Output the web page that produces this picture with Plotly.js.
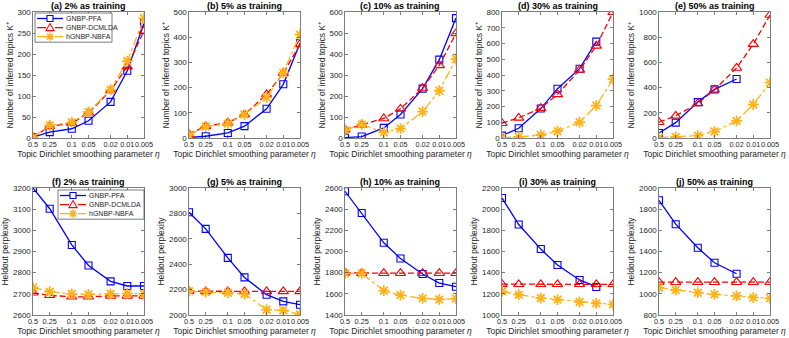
<!DOCTYPE html>
<html>
<head>
<meta charset="utf-8">
<script src="https://cdn.plot.ly/plotly-3.0.1.min.js"></script>
<style>
  html, body { margin: 0; padding: 0; background: #fff; }
  #chart { width: 789px; height: 338px; }
</style>
</head>
<body>
<div id="chart"></div>
<script>
// smoothing parameter eta, drawn on a reversed log axis
var eta = [0.5, 0.25, 0.1, 0.05, 0.02, 0.01, 0.005];
var etaLabels = ["0.5", "0.25", "0.1", "0.05", "0.02", "0.01", "0.005"];

var methods = ["GNBP-PFA", "GNBP-DCMLDA", "hGNBP-NBFA"];

var topTitles = ["(a) 2% as training", "(b) 5% as training", "(c) 10% as training",
                 "(d) 30% as training", "(e) 50% as training"];
var bottomTitles = ["(f) 2% as training", "(g) 5% as training", "(h) 10% as training",
                    "(i) 30% as training", "(j) 50% as training"];

// number of inferred topics K+, one row per training fraction
var topicsPFA = [
  [2, 14, 22, 41, 86, 160, 273],
  [2, 7, 20, 47, 116, 213, 376],
  [2, 7, 48, 112, 235, 373, 571],
  [15, 62, 187, 313, 440, 612, null],
  [40, 122, 285, 386, 468, null, null]
];
var topicsDCMLDA = [
  [2, 28, 35, 60, 113, 170, 255],
  [15, 47, 61, 93, 173, 257, 372],
  [40, 62, 93, 139, 238, 346, 498],
  [94, 128, 189, 277, 432, 585, 798],
  [125, 176, 274, 383, 556, 745, 976]
];
var topicsNBFA = [
  [2, 30, 37, 62, 115, 183, 285],
  [11, 46, 57, 93, 161, 259, 410],
  [37, 65, 27, 45, 126, 225, 376],
  [2, 7, 19, 43, 100, 206, 374],
  [3, 8, 19, 51, 136, 266, 439]
];

// heldout perplexity
var perpPFA = [
  [3200, 3102, 2931, 2834, 2759, 2737, 2737],
  [2809, 2678, 2450, 2296, 2160, 2107, 2081],
  [2569, 2364, 2082, 1934, 1787, 1702, 1667],
  [2106, 1855, 1623, 1472, 1331, 1265, null],
  [1884, 1658, 1435, 1294, 1190, null, null]
];
var perpDCMLDA = [
  [2705, 2693, 2686, 2686, 2690, 2690, 2690],
  [2188, 2186, 2186, 2186, 2186, 2186, 2186],
  [1800, 1795, 1795, 1795, 1795, 1795, 1795],
  [1292, 1290, 1290, 1290, 1290, 1290, 1290],
  [1111, 1110, 1110, 1110, 1110, 1110, 1110]
];
var perpNBFA = [
  [2730, 2710, 2700, 2697, 2700, 2702, 2700],
  [2188, 2180, 2175, 2165, 2042, 2037, 2005],
  [1793, 1793, 1630, 1588, 1557, 1547, 1555],
  [1223, 1192, 1160, 1145, 1123, 1110, 1100],
  [1058, 1036, 1011, 995, 980, 964, 958]
];

// axis ranges and tick steps for each panel
var topRange = [[0, 300, 50], [0, 500, 100], [0, 600, 100], [0, 800, 100], [0, 1000, 200]];
var bottomRange = [[2600, 3200, 100], [2000, 3000, 200], [1400, 2600, 200], [1000, 2200, 200], [800, 2000, 200]];

var W = 789, H = 338;
var colLeft = [33, 189, 345, 502, 659];
var plotW = 111;
var rowTop = [12, 188], rowBottom = [138, 315];

var font = "Liberation Sans, Arial, sans-serif";
var ink = "#262626";

var styles = [
  {color: "#0000ff", dash: "solid", symbol: "square-open", size: 7, mw: 1.1},
  {color: "#ff0000", dash: "6px,3px", symbol: "triangle-up-open", size: 9, mw: 1.1},
  {color: "#ffb31a", dash: "dashdot", symbol: "asterisk-open", size: 9, mw: 1.8}
];

function px(x) { return x / W; }
function py(y) { return 1 - y / H; }

var data = [];
var layout = {
  width: W, height: H,
  margin: {l: 0, r: 0, t: 0, b: 0},
  paper_bgcolor: "#fff", plot_bgcolor: "#fff",
  font: {family: font, size: 8, color: ink},
  showlegend: false,
  annotations: [],
  shapes: []
};

function addPanel(idx, row, col, series, rng, title, ytitle) {
  var n = idx + 1;
  var xa = n === 1 ? "x" : "x" + n;
  var ya = n === 1 ? "y" : "y" + n;
  for (var m = 0; m < 3; m++) {
    var s = styles[m];
    data.push({
      x: eta, y: series[m],
      xaxis: xa, yaxis: ya,
      type: "scatter", mode: "lines+markers",
      name: methods[m],
      line: {color: s.color, width: 1.3, dash: s.dash},
      marker: {symbol: s.symbol, size: s.size, color: s.color, line: {color: s.color, width: s.mw}}
    });
  }
  var l = colLeft[col];
  layout["xaxis" + (n === 1 ? "" : n)] = {
    anchor: ya,
    domain: [px(l), px(l + plotW)],
    type: "log",
    range: [Math.log10(0.5), Math.log10(0.005)],
    tickmode: "array", tickvals: eta, ticktext: etaLabels, tickangle: 0,
    ticks: "inside", ticklen: 3, tickcolor: ink, tickwidth: 0.6,
    showline: true, linecolor: ink, linewidth: 0.6, mirror: "ticks",
    showgrid: false, zeroline: false,
    tickfont: {size: 7.3, color: ink},
    title: {text: "Topic Dirichlet smoothing parameter <i>η</i>", font: {size: 8.5, color: ink}, standoff: 2}
  };
  layout["yaxis" + (n === 1 ? "" : n)] = {
    anchor: xa,
    domain: [py(rowBottom[row]), py(rowTop[row])],
    range: [rng[0], rng[1]], dtick: rng[2], tick0: rng[0],
    ticks: "inside", ticklen: 3, tickcolor: ink, tickwidth: 0.6,
    showline: true, linecolor: ink, linewidth: 0.6, mirror: "ticks",
    showgrid: false, zeroline: false,
    tickfont: {size: 8, color: ink},
    title: {text: ytitle, font: {size: 8.5, color: ink}, standoff: 2}
  };
  layout.annotations.push({
    xref: "paper", yref: "paper",
    x: px(l + plotW / 2), y: py(rowTop[row] - 6.5),
    xanchor: "center", yanchor: "middle",
    text: "<b>" + title + "</b>", showarrow: false,
    font: {size: 9, color: "#000"}
  });
}

// compact MATLAB-style legend box drawn with shapes and one block of text
function addLegend(left, top, width) {
  var gap = 9.1;
  var height = 2 * gap + 11;
  layout.shapes.push({
    type: "rect", xref: "paper", yref: "paper",
    x0: px(left), x1: px(left + width), y0: py(top), y1: py(top + height),
    fillcolor: "#fff", line: {color: ink, width: 0.6}
  });
  for (var m = 0; m < 3; m++) {
    var s = styles[m];
    var cy = top + 5.5 + m * gap;
    var cx = left + 15;
    layout.shapes.push({
      type: "line", xref: "paper", yref: "paper",
      x0: px(left + 2), x1: px(left + 28), y0: py(cy), y1: py(cy),
      line: {color: s.color, width: 1.3, dash: s.dash === "6px,3px" ? "dash" : s.dash}
    });
    var path;
    if (m === 0) {
      path = "M" + px(cx - 3) + "," + py(cy - 3) + "L" + px(cx + 3) + "," + py(cy - 3) +
             "L" + px(cx + 3) + "," + py(cy + 3) + "L" + px(cx - 3) + "," + py(cy + 3) + "Z";
      layout.shapes.push({type: "path", xref: "paper", yref: "paper", path: path,
        fillcolor: "#fff", line: {color: s.color, width: 1.1}});
    } else if (m === 1) {
      path = "M" + px(cx) + "," + py(cy - 4) + "L" + px(cx + 4) + "," + py(cy + 3) +
             "L" + px(cx - 4) + "," + py(cy + 3) + "Z";
      layout.shapes.push({type: "path", xref: "paper", yref: "paper", path: path,
        fillcolor: "#fff", line: {color: s.color, width: 1.1}});
    } else {
      var r = 4, d = 2.9;
      path = "M" + px(cx - r) + "," + py(cy) + "L" + px(cx + r) + "," + py(cy) +
             "M" + px(cx) + "," + py(cy - r) + "L" + px(cx) + "," + py(cy + r) +
             "M" + px(cx - d) + "," + py(cy - d) + "L" + px(cx + d) + "," + py(cy + d) +
             "M" + px(cx - d) + "," + py(cy + d) + "L" + px(cx + d) + "," + py(cy - d);
      layout.shapes.push({type: "path", xref: "paper", yref: "paper", path: path,
        line: {color: s.color, width: 1.6}});
    }
  }
  layout.annotations.push({
    xref: "paper", yref: "paper", x: px(left + 30), y: py(top + 5.5 + gap),
    xanchor: "left", yanchor: "middle", align: "left", showarrow: false,
    borderpad: 0,
    text: methods.join("<br>"), font: {size: 7, color: ink}
  });
}

for (var i = 0; i < 5; i++) {
  addPanel(i, 0, i, [topicsPFA[i], topicsDCMLDA[i], topicsNBFA[i]], topRange[i],
           topTitles[i], "Number of inferred topics K<sup>+</sup>");
}
for (var j = 0; j < 5; j++) {
  addPanel(j + 5, 1, j, [perpPFA[j], perpDCMLDA[j], perpNBFA[j]], bottomRange[j],
           bottomTitles[j], "Heldout perplexity");
}
addLegend(35, 13, 77);
addLegend(58, 190, 86);

Plotly.newPlot("chart", data, layout, {displayModeBar: false, staticPlot: true});
</script>
</body>
</html>
